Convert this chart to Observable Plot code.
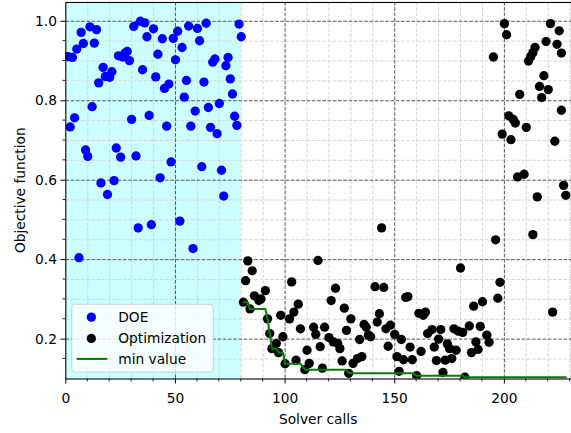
<!DOCTYPE html>
<html><head><meta charset="utf-8">
<script src="https://cdn.jsdelivr.net/npm/d3@7"></script>
<script src="https://cdn.jsdelivr.net/npm/@observablehq/plot@0.6"></script>
<style>
html,body{margin:0;padding:0;background:#fff;overflow:hidden;width:571px;height:433px;}
#chart{position:relative;width:571px;height:433px;overflow:hidden;}
svg{font-family:"DejaVu Sans",sans-serif;}
</style></head><body><div id="chart"></div>
<script>
// ---- data ----
const doeCalls = [1,2,3,4,5,6,7,8,9,10,11,12,13,14,15,16,17,18,19,20,21,22,23,24,25,26,27,28,29,30,31,32,33,34,35,36,37,38,39,40,41,42,43,44,45,46,47,48,49,50,51,52,53,54,55,56,57,58,59,60,61,62,63,64,65,66,67,68,69,70,71,72,73,74,75,76,77,78,79,80];
const doeValues = [0.911,0.734,0.909,0.757,0.930,0.405,0.972,0.944,0.676,0.660,0.986,0.785,0.945,0.979,0.845,0.593,0.884,0.861,0.564,0.859,0.873,0.599,0.681,0.913,0.658,0.910,0.920,0.924,0.901,0.753,0.987,0.661,0.480,1.000,0.878,0.996,0.961,0.763,0.488,0.981,0.860,0.917,0.606,0.956,0.831,0.736,0.842,0.646,0.957,0.903,0.975,0.497,0.934,0.809,0.851,0.988,0.736,0.428,0.774,0.982,0.951,0.634,0.847,0.995,0.783,0.733,0.897,0.905,0.717,0.793,0.625,0.560,0.888,0.909,0.855,0.817,0.761,0.738,0.993,0.961];
const optCalls = [81,82,83,84,85,86,88,89,91,92,93,94,96,97,98,99,100,102,103,104,105,106,107,109,110,111,113,114,115,116,117,118,120,121,122,123,124,125,126,127,128,129,130,131,133,134,135,136,137,138,139,141,142,143,144,145,146,147,148,150,151,152,153,154,155,156,157,158,160,161,162,163,164,165,167,168,169,170,171,172,173,174,175,176,177,178,179,180,181,182,184,185,186,187,188,189,190,192,193,195,196,197,198,199,200,201,202,203,204,205,206,207,209,210,211,212,213,213,214,215,216,217,218,219,220,221,222,223,224,225,226,226,227,228];
const optValues = [0.293,0.347,0.397,0.276,0.372,0.309,0.297,0.301,0.322,0.251,0.214,0.176,0.189,0.166,0.260,0.206,0.138,0.251,0.344,0.268,0.147,0.288,0.226,0.123,0.172,0.139,0.230,0.212,0.398,0.181,0.127,0.230,0.204,0.297,0.193,0.328,0.189,0.176,0.145,0.278,0.222,0.114,0.251,0.139,0.151,0.199,0.156,0.237,0.230,0.210,0.206,0.332,0.243,0.264,0.480,0.330,0.226,0.182,0.235,0.212,0.156,0.119,0.199,0.148,0.305,0.307,0.180,0.148,0.108,0.265,0.169,0.260,0.268,0.214,0.224,0.180,0.146,0.200,0.224,0.116,0.147,0.188,0.176,0.151,0.226,0.172,0.220,0.379,0.217,0.104,0.233,0.166,0.283,0.193,0.174,0.232,0.294,0.210,0.192,0.910,0.450,0.303,0.343,0.716,0.994,0.966,0.762,0.702,0.753,0.744,0.608,0.816,0.615,0.733,0.900,0.911,0.921,0.463,0.934,0.558,0.836,0.808,0.863,0.949,0.828,0.994,0.268,0.698,0.942,0.976,0.920,0.776,0.587,0.562];
const doeSpan = [0, 80];
const xTicks = [0, 50, 100, 150, 200];
const yTicks = [0.2, 0.4, 0.6, 0.8, 1.0];
const xMinor = [10,20,30,40,60,70,80,90,110,120,130,140,160,170,180,190,210,220,230];
const yMinor = [0.15,0.25,0.3,0.35,0.45,0.5,0.55,0.65,0.7,0.75,0.85,0.9,0.95];
const xDomain = [0, 230.6];
const yDomain = [0.0996, 1.0473];
const legendLabels = ["DOE", "Optimization", "min value"];
const xLabel = "Solver calls";
const yLabel = "Objective function";

// ---- tables ----
const doe = doeCalls.map((c, i) => ({call: c, value: doeValues[i]}));
const opt = optCalls.map((c, i) => ({call: c, value: optValues[i]}));
let running = Infinity;
const minLine = opt.map(d => { running = Math.min(running, d.value); return {call: d.call, value: running}; });

const dash = "3.7,1.6";
const chart = Plot.plot({
  width: 577, height: 433,
  marginLeft: 66, marginRight: 0, marginTop: 2, marginBottom: 50.5,
  style: {fontFamily: '"DejaVu Sans", sans-serif', fontSize: "13.9px", color: "#000", background: "transparent"},
  x: {domain: xDomain, label: null},
  y: {domain: yDomain, label: null},
  marks: [
    Plot.rect([doeSpan], {x1: d => d[0], x2: d => d[1], fill: "#ccffff"}),
    Plot.gridX(xMinor, {stroke: "#d6d6d6", strokeOpacity: 1, strokeWidth: 1, strokeDasharray: dash}),
    Plot.gridY(yMinor, {stroke: "#d6d6d6", strokeOpacity: 1, strokeWidth: 1, strokeDasharray: dash}),
    Plot.gridX(xTicks.filter(d => d > 0), {stroke: "#555", strokeOpacity: 1, strokeWidth: 1, strokeDasharray: dash}),
    Plot.gridY(yTicks, {stroke: "#555", strokeOpacity: 1, strokeWidth: 1, strokeDasharray: dash}),
    Plot.dot(doe, {x: "call", y: "value", r: 4.7, fill: "#0000ff", clip: true}),
    Plot.dot(opt, {x: "call", y: "value", r: 4.7, fill: "#000000", clip: true}),
    Plot.line(minLine, {x: "call", y: "value", stroke: "#008000", strokeWidth: 2.1, clip: true}),
    Plot.frame({stroke: "#000", strokeWidth: 1.1}),
    Plot.axisX(xTicks, {tickSize: 5, tickPadding: 9, fontSize: 13.9, label: null, tickFormat: d => String(d)}),
    Plot.axisY(yTicks, {tickSize: 5, tickPadding: 4, fontSize: 13.9, label: null, tickFormat: d3.format(".1f")})
  ]
});
document.getElementById("chart").appendChild(chart);

// minor ticks, axis titles, legend (positioned from the Plot scales)
const svg = d3.select(chart);
const sx = chart.scale("x"), sy = chart.scale("y");
const xLeft = sx.apply(xDomain[0]);
const yBottom = sy.apply(yDomain[0]);
const gt = svg.append("g").attr("stroke", "#000").attr("stroke-width", 0.85);
xMinor.forEach(v => { const p = sx.apply(v); gt.append("line").attr("x1", p).attr("x2", p).attr("y1", yBottom).attr("y2", yBottom + 3); });
yMinor.forEach(v => { const p = sy.apply(v); gt.append("line").attr("x1", xLeft - 3).attr("x2", xLeft).attr("y1", p).attr("y2", p); });

svg.append("text").attr("x", (xLeft + 577) / 2).attr("y", 428).attr("text-anchor", "middle")
  .attr("font-size", 13.9).attr("fill", "#000").text(xLabel);
svg.append("text").attr("transform", `translate(25,${(sy.apply(yDomain[0]) + sy.apply(yDomain[1])) / 2}) rotate(-90)`)
  .attr("text-anchor", "middle").attr("font-size", 13.9).attr("fill", "#000").text(yLabel);

const lg = svg.append("g").attr("text-anchor", "start");
lg.append("rect").attr("x", 72.5).attr("y", 307.5).attr("width", 143).attr("height", 68.5).attr("rx", 3)
  .attr("fill", "#fff").attr("fill-opacity", 0.8).attr("stroke", "#cccccc").attr("stroke-width", 1);
const rowsY = [320.5, 342, 362.7];
lg.append("circle").attr("cx", 92.3).attr("cy", rowsY[0]).attr("r", 4.7).attr("fill", "#0000ff");
lg.append("circle").attr("cx", 92.3).attr("cy", rowsY[1]).attr("r", 4.7).attr("fill", "#000");
lg.append("line").attr("x1", 77.5).attr("x2", 108.5).attr("y1", rowsY[2]).attr("y2", rowsY[2]).attr("stroke", "#008000").attr("stroke-width", 2.1);
legendLabels.forEach((t, i) => {
  lg.append("text").attr("x", 119.5).attr("y", rowsY[i]).attr("dy", "0.36em").attr("text-anchor", "start")
    .attr("font-size", 13.9).attr("fill", "#000").text(t);
});
</script></body></html>
